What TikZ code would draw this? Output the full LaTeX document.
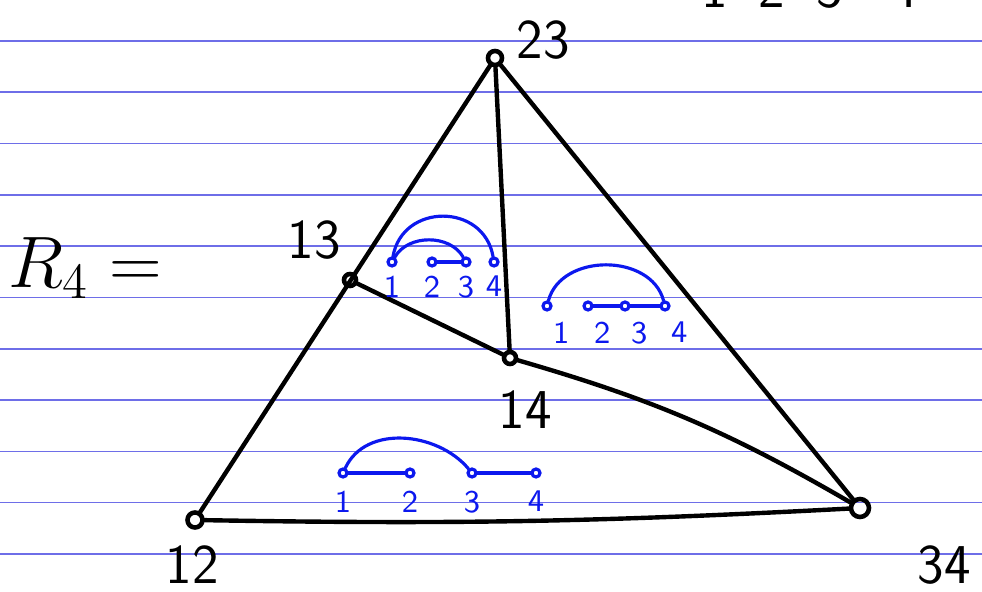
\documentclass[tikz,border=0pt]{standalone}
\usepackage{tikz}
\usetikzlibrary{positioning}
\definecolor{rulecol}{RGB}{110,110,232}
\definecolor{ink}{RGB}{12,24,238}
\tikzset{
  vtx/.style={draw, circle, line width=1.3pt, inner sep=0pt, minimum size=0.14cm},
  vlab/.style={font=\fontsize{16}{18}\selectfont\sffamily, inner sep=1pt},
  stroke/.style={line width=1.25pt, line cap=round},
  spot/.style={draw=ink, circle, line width=0.9pt, inner sep=0pt, minimum size=0.08cm},
  num/.style={text=ink, font=\fontsize{9}{10}\selectfont\sffamily, inner sep=1pt},
  link/.style={draw=ink, line width=0.9pt, line cap=round},
}

\begin{document}
\begin{tikzpicture}[x=0.01cm, y=-0.01cm]
  \clip (0,0) rectangle (982,592);
  % ruled page
  \foreach \k in {0,...,10}
    \draw[rulecol, line width=0.45pt] (0,{41+51.3*\k}) -- (982,{41+51.3*\k});
  % cut-off line at the top
  \foreach \x/\d in {715/1,772/2,830/3,905/4}
    \node[vlab, anchor=base] (t\d) at (\x,8) {\d};

  \node[font=\fontsize{21}{26}\selectfont, anchor=base west] (rfour) at (-4,288) {$R_4 =$};

  % vertices of the triangle
  \node[vtx] (v23) at (495,58) {};
  \node[vtx, minimum size=0.12cm] (v13) at (350,280) {};
  \node[vtx, minimum size=0.12cm] (v14) at (510,358) {};
  \node[vtx, minimum size=0.15cm] (v12) at (195,520) {};
  \node[vtx, minimum size=0.18cm] (v34) at (860,508) {};
  \node[vlab] (l23) at (543,40) {23};
  \node[vlab] (l13) at (314,240) {13};
  \node[vlab] (l14) at (525,410) {14};
  \node[vlab] (l12) at (192,565) {12};
  \node[vlab] (l34) at (944,565) {34};

  \draw[stroke] (v23) -- (v12);
  \draw[stroke] (v23) -- (v34);
  \draw[stroke] (v12) to[bend right=2] (v34);
  \draw[stroke] (v23) -- (v14);
  \draw[stroke] (v13) -- (v14);
  \draw[stroke] (v14) to[bend left=7] (v34);

  % region next to 13
  \foreach \x [count=\i] in {392,432,466,494}
    \node[spot] (a\i) at (\x,262) {};
  \foreach \i in {1,...,4}
    \node[num, below=0.04cm of a\i] {\i};
  \draw[link] (a1) to[out=80,in=100,looseness=1.4] (a4);
  \draw[link] (a1) to[out=60,in=120] (a3);
  \draw[link] (a2) -- (a3);

  % region right of 14
  \foreach \x [count=\i] in {547,588,625,665}
    \node[spot] (b\i) at (\x,306) {};
  \foreach \i in {1,...,4}
    \node[num, below right=0.08cm and -0.02cm of b\i] {\i};
  \draw[link] (b1) to[out=75,in=105,looseness=1.1] (b4);
  \draw[link] (b2) -- (b3) -- (b4);

  % bottom region
  \foreach \x [count=\i] in {343,410,472,536}
    \node[spot] (c\i) at (\x,473) {};
  \foreach \i in {1,...,4}
    \node[num, below=0.08cm of c\i] {\i};
  \draw[link] (c1) to[out=65,in=130] (c3);
  \draw[link] (c1) -- (c2);
  \draw[link] (c3) -- (c4);
\end{tikzpicture}
\end{document}
